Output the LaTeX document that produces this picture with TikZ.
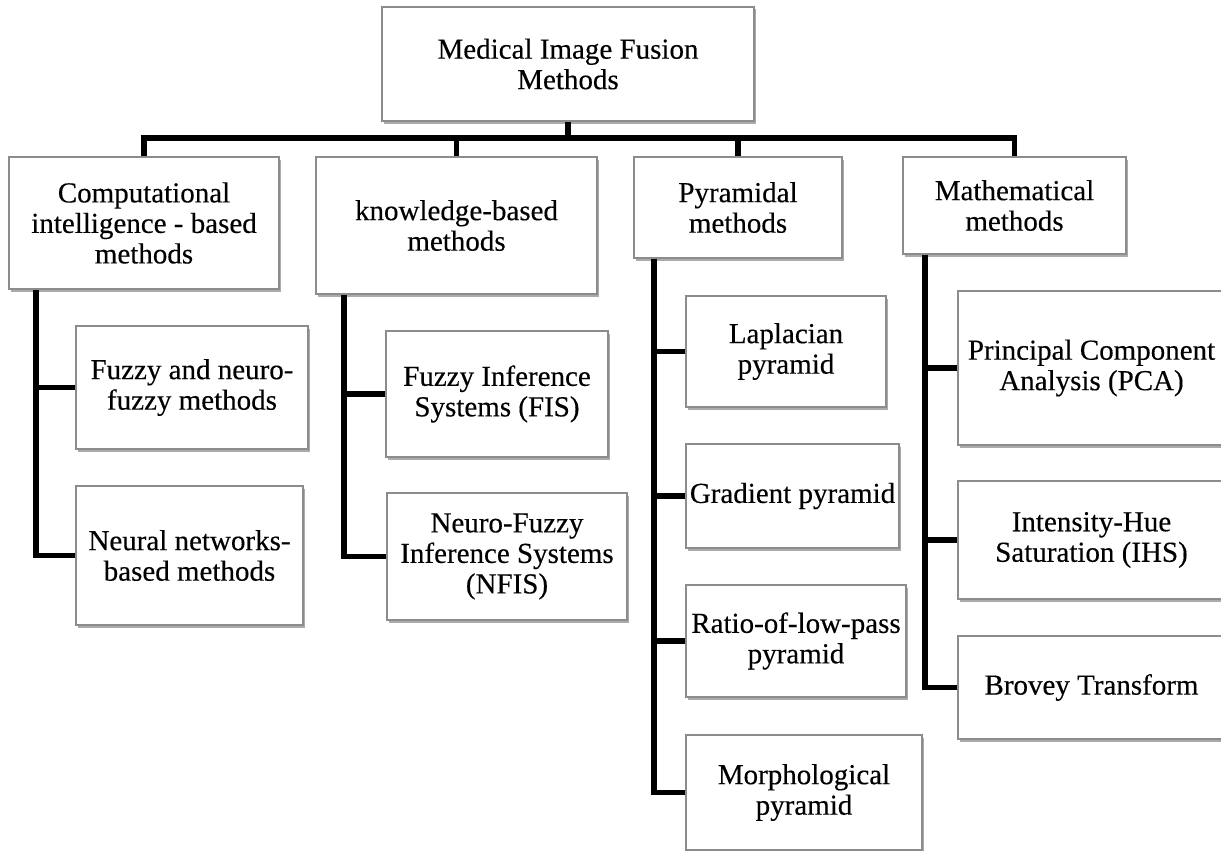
\documentclass[tikz,border=0pt]{standalone}
\usepackage{fontspec}
\setmainfont{Liberation Serif}[FakeBold=0.3]
\usetikzlibrary{shadows}
\tikzset{
  box/.style={draw=black!45, line width=1.2pt, fill=white, align=center, inner sep=0pt,
    font=\fontsize{29}{30.5}\selectfont,
    drop shadow={shadow xshift=1.5pt, shadow yshift=-2.5pt, fill=black!55, opacity=0.6}},
  conn/.style={draw=black, line width=5.5pt, line join=miter}
}
\newcommand{\bx}[6]{% name, x1, y1, x2, y2, text
  \node[box, minimum width=#4pt-#2pt, minimum height=#5pt-#3pt] (#1) at ({(#2+#4)/2},{(#3+#5)/2}) {#6};}
\begin{document}
\begin{tikzpicture}[x=1pt,y=-1pt]
\path[use as bounding box] (0,0) rectangle (1221,851);
\clip (0,0) rectangle (1221,851);
\fill[white] (0,0) rectangle (1221,851);
% top
\bx{top}{382}{7}{754}{121}{Medical Image Fusion\\Methods}
% level 1
\bx{b1}{9}{157}{279}{289}{Computational\\intelligence - based\\methods}
\bx{b2}{316}{157}{597}{294}{knowledge-based\\methods}
\bx{b3}{634}{157}{842}{258}{Pyramidal\\methods}
\bx{b4}{903}{157}{1126}{254}{Mathematical\\methods}
% children of b1
\bx{c11}{76}{326}{308}{449}{Fuzzy and neuro-\\fuzzy methods}
\bx{c12}{76}{486}{303}{625}{Neural networks-\\based methods}
% children of b2
\bx{c21}{386}{331}{608}{457}{Fuzzy Inference\\Systems (FIS)}
\bx{c22}{387}{493}{627}{620}{Neuro-Fuzzy\\Inference Systems\\(NFIS)}
% children of b3
\bx{c31}{686}{296}{886}{407}{Laplacian\\pyramid}
\bx{c32}{686}{444}{899}{548}{Gradient pyramid}
\bx{c33}{686}{585}{906}{697}{Ratio-of-low-pass\\pyramid}
\bx{c34}{686}{735}{922}{850}{Morphological\\pyramid}
% children of b4
\bx{c41}{958}{291}{1225}{445}{Principal Component\\Analysis (PCA)}
\bx{c42}{958}{481}{1225}{599}{Intensity-Hue\\Saturation (IHS)}
\bx{c43}{958}{636}{1225}{739}{Brovey Transform}
% connectors
\coordinate (bus) at (0,138);
\coordinate (v1) at (36,0);
\coordinate (v2) at (344,0);
\coordinate (v3) at (654,0);
\coordinate (v4) at (925,0);
\draw[conn] (top.south) -- (top.south |- bus);
\draw[conn] (b1.north) -- (b1.north |- bus) -- (bus -| b4.north) -- (b4.north);
\draw[conn] (b2.north) -- (b2.north |- bus);
\draw[conn] (b3.north) -- (b3.north |- bus);
\draw[conn] (b1.south -| v1) |- (c12.west);
\draw[conn] (c11.west -| v1) -- (c11.west);
\draw[conn] (b2.south -| v2) |- (c22.west);
\draw[conn] (c21.west -| v2) -- (c21.west);
\draw[conn] (b3.south -| v3) |- (c34.west);
\draw[conn] (c31.west -| v3) -- (c31.west);
\draw[conn] (c32.west -| v3) -- (c32.west);
\draw[conn] (c33.west -| v3) -- (c33.west);
\draw[conn] (b4.south -| v4) |- (c43.west);
\draw[conn] (c41.west -| v4) -- (c41.west);
\draw[conn] (c42.west -| v4) -- (c42.west);
\end{tikzpicture}
\end{document}
